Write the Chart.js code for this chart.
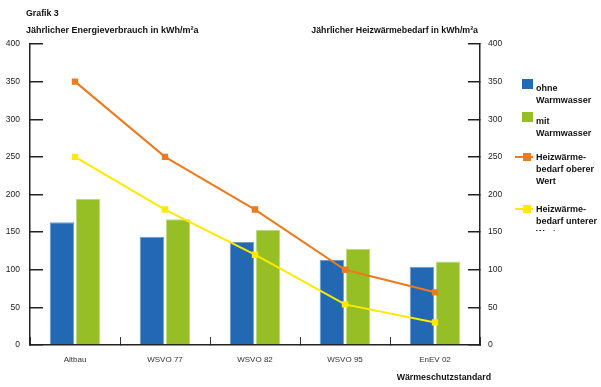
<!DOCTYPE html>
<html>
<head>
<meta charset="utf-8">
<script src="https://cdn.jsdelivr.net/npm/chart.js@4.4.0/dist/chart.umd.min.js"></script>
<style>
  body { margin: 0; background: #fff; font-family: "Liberation Sans", Arial, sans-serif; }
  #wrap { position: relative; width: 601px; height: 387px; overflow: hidden; }
  #c { position: absolute; left: 0; top: 0; }
  .t { position: absolute; font-weight: bold; font-size: 8.8px; color: #111; white-space: nowrap; line-height: 10px; }
  #legend { position: absolute; left: 510px; top: 70px; width: 91px; height: 161px; overflow: hidden; }
  .item { position: absolute; left: 0; width: 91px; }
  .sw { position: absolute; }
  .ln { position: absolute; height: 2px; }
  .lt { position: absolute; left: 26px; font-weight: bold; font-size: 9px; line-height: 12px; color: #111; white-space: nowrap; }
</style>
</head>
<body>
<div id="wrap">
  <canvas id="c" width="601" height="387"></canvas>
  <div class="t" style="left:26px; top:8px;">Grafik 3</div>
  <div class="t" style="left:26px; top:25px; font-size:9px;">Jährlicher Energieverbrauch in kWh/m²a</div>
  <div class="t" style="right:123px; top:25px;">Jährlicher Heizwärmebedarf in kWh/m²a</div>
  <div class="t" style="right:110px; top:372px;">Wärmeschutzstandard</div>
  <div id="legend"></div>
</div>
<script>
var categories = ['Altbau', 'WSVO 77', 'WSVO 82', 'WSVO 95', 'EnEV 02'];
var ohneWarmwasser = [163, 144, 137, 113, 104];
var mitWarmwasser = [194, 167, 153, 128, 111];
var heizOben = [350, 250, 180, 100, 70];
var heizUnten = [250, 180, 120, 54, 30];
var legendLabels = [
  ['ohne', 'Warmwasser'],
  ['mit', 'Warmwasser'],
  ['Heizwärme-', 'bedarf oberer', 'Wert'],
  ['Heizwärme-', 'bedarf unterer', 'Wert']
];

var blue = '#2368b2';
var green = '#95bf24';
var orange = '#ec7a1e';
var yellow = '#ffe900';
var axisCol = '#222';

// legend (html so the multi-line labels wrap like the original)
var lg = document.getElementById('legend');
var itemTops = [6, 39, 82, 134];
var cols = [blue, green, orange, yellow];
legendLabels.forEach(function (lines, i) {
  var it = document.createElement('div');
  it.className = 'item';
  it.style.top = itemTops[i] + 'px';
  if (i < 2) {
    it.innerHTML = '<div class="sw" style="left:12px;top:3px;width:11px;height:10px;background:' + cols[i] + '"></div>';
  } else {
    it.innerHTML = '<div class="ln" style="left:5px;top:4px;width:18px;background:' + cols[i] + '"></div>' +
      '<div class="sw" style="left:13px;top:1px;width:8px;height:8px;background:' + cols[i] + '"></div>';
  }
  var txt = document.createElement('div');
  txt.className = 'lt';
  txt.style.top = (i < 2 ? 6 : -1) + 'px';
  txt.innerHTML = lines.join('<br>');
  it.appendChild(txt);
  lg.appendChild(it);
});

var ctx = document.getElementById('c').getContext('2d');
var chart = new Chart(ctx, {
  type: 'bar',
  data: {
    labels: categories,
    datasets: [
      {
        type: 'line', label: 'Heizwärmebedarf oberer Wert', data: heizOben,
        borderColor: orange, backgroundColor: orange, borderWidth: 2,
        pointStyle: 'rect', pointRadius: 4.5, pointBorderWidth: 0, pointBackgroundColor: orange,
        tension: 0, yAxisID: 'y2', order: 0
      },
      {
        type: 'line', label: 'Heizwärmebedarf unterer Wert', data: heizUnten,
        borderColor: yellow, backgroundColor: yellow, borderWidth: 2,
        pointStyle: 'rect', pointRadius: 4.5, pointBorderWidth: 0, pointBackgroundColor: yellow,
        tension: 0, yAxisID: 'y2', order: 0
      },
      {
        label: 'ohne Warmwasser', data: ohneWarmwasser, backgroundColor: blue,
        borderColor: '#6f9bd0', borderWidth: 1, yAxisID: 'y', order: 1,
        categoryPercentage: 0.58, barPercentage: 0.94
      },
      {
        label: 'mit Warmwasser', data: mitWarmwasser, backgroundColor: green,
        borderColor: '#bcd97a', borderWidth: 1, yAxisID: 'y', order: 1,
        categoryPercentage: 0.58, barPercentage: 0.94
      }
    ]
  },
  options: {
    responsive: false,
    animation: false,
    layout: { padding: { top: 44, left: 0, right: 81, bottom: 0 } },
    plugins: { legend: { display: false }, tooltip: { enabled: false } },
    scales: {
      x: {
        offset: true,
        grid: { offset: true, drawOnChartArea: false, tickLength: -8, color: '#333', lineWidth: 1 },
        border: { display: true, color: axisCol, width: 1.5 },
        ticks: { padding: 18, autoSkip: false, maxRotation: 0, color: '#333', font: { size: 8, family: '"Liberation Sans", Arial, sans-serif' } },
        afterFit: function (s) { s.height = 42; }
      },
      y: {
        position: 'left', min: 0, max: 400,
        grid: { drawOnChartArea: false, tickLength: -13, color: axisCol, lineWidth: 1.5 },
        border: { display: true, color: axisCol, width: 1.5 },
        ticks: { stepSize: 50, padding: 23, color: '#222', font: { size: 8.5, family: '"Liberation Sans", Arial, sans-serif' } },
        afterFit: function (s) { s.width = 30; }
      },
      y2: {
        position: 'right', min: 0, max: 400,
        grid: { drawOnChartArea: false, tickLength: -12, color: axisCol, lineWidth: 1.5 },
        border: { display: true, color: axisCol, width: 1.5 },
        ticks: { stepSize: 50, padding: 20, color: '#222', font: { size: 8.5, family: '"Liberation Sans", Arial, sans-serif' } },
        afterFit: function (s) { s.width = 40; }
      }
    }
  }
});
</script>
</body>
</html>
